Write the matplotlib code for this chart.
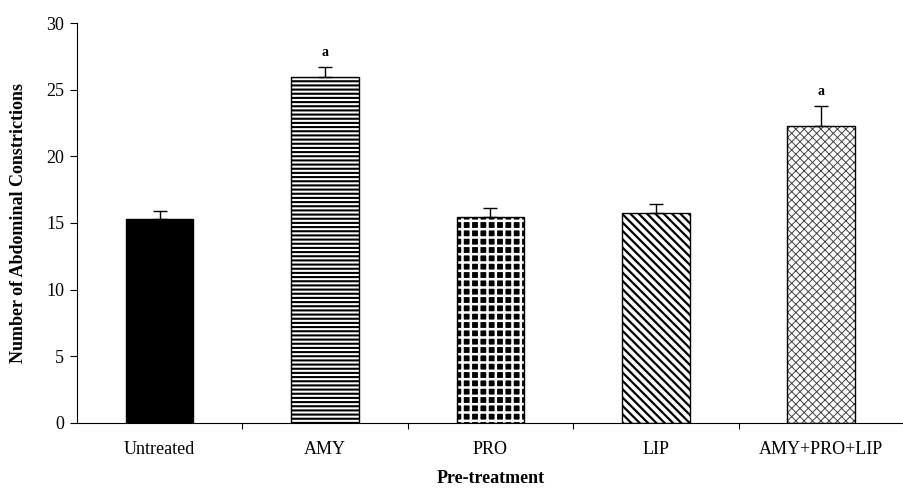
import numpy as np
import matplotlib
matplotlib.use("Agg")
import matplotlib.pyplot as plt
from matplotlib.ticker import FixedLocator

plt.rcParams['font.family'] = ['Liberation Serif', 'DejaVu Serif']

# data
groups = ['Untreated', 'AMY', 'PRO', 'LIP', 'AMY+PRO+LIP']
means = [15.3, 25.95, 15.45, 15.75, 22.25]
errors = [0.6, 0.75, 0.7, 0.65, 1.5]
sig = ['', 'a', '', '', 'a']

fig = plt.figure(figsize=(9.04, 4.90), dpi=100)
ax = fig.add_axes([0.085, 0.137, 0.915, 0.816])

index = np.arange(len(groups))
width = 0.41

# (face, hatch, hatch colour, hatch linewidth)
styles = [('black', '', 'black', 1.0),
          ('white', '----', 'black', 1.5),
          ('black', '++', 'white', 1.8),
          ('white', '\\\\\\\\', 'black', 1.6),
          ('white', 'xxxx', '#444444', 0.7)]

for i, (face, hatch, hcol, hlw) in enumerate(styles):
    with plt.rc_context({'hatch.linewidth': hlw}):
        ax.bar(index[i], means[i], width, color=face, edgecolor=hcol,
               hatch=hatch, linewidth=0, zorder=2)
    ax.bar(index[i], means[i], width, fill=False, edgecolor='black',
           linewidth=1.0, zorder=3)

ax.errorbar(index, means, yerr=[np.zeros(len(means)), errors], fmt='none',
            ecolor='black', elinewidth=1.0, capsize=5, capthick=1.0, zorder=4)

for i, s in enumerate(sig):
    if s:
        ax.annotate(s, (index[i], means[i] + errors[i]), xytext=(0, 6),
                    textcoords='offset points', ha='center', va='bottom',
                    fontsize=10, fontweight='bold')

ax.set_xlim(-0.5, len(groups) - 0.5)
ax.set_ylim(0, 30)
ax.set_yticks(np.arange(0, 31, 5))
ax.set_xticks(index)
ax.set_xticklabels(groups)
ax.xaxis.set_minor_locator(FixedLocator(np.arange(0.5, len(groups) - 0.5, 1)))
ax.tick_params(axis='x', which='major', length=0, pad=13, labelsize=13)
ax.tick_params(axis='x', which='minor', length=4, direction='out', width=0.8)
ax.tick_params(axis='y', length=5, direction='out', width=0.8, labelsize=13, pad=4)

ax.spines['top'].set_visible(False)
ax.spines['right'].set_visible(False)
ax.spines['left'].set_linewidth(0.8)
ax.spines['bottom'].set_linewidth(0.8)

ax.set_ylabel('Number of Abdominal Constrictions', fontsize=13,
              fontweight='bold', labelpad=14)
ax.set_xlabel('Pre-treatment', fontsize=13, fontweight='bold', labelpad=9)

fig.savefig('out.png', dpi=100)
